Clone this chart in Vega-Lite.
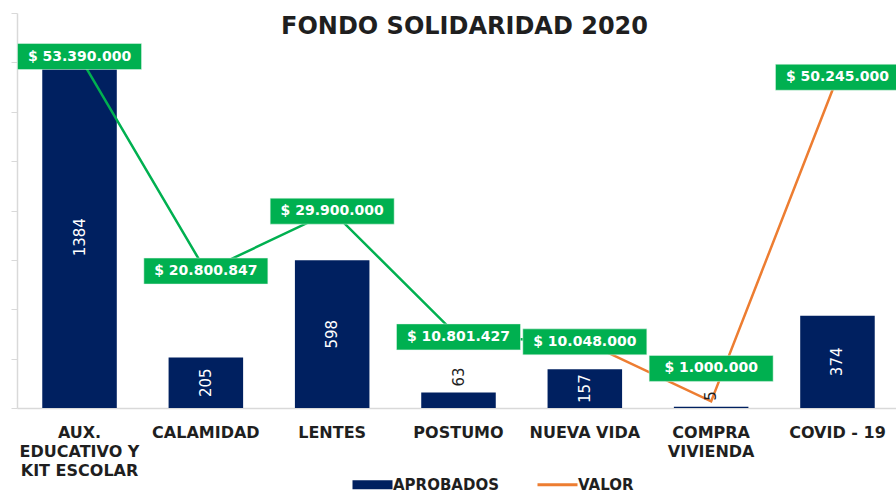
{
  "$schema": "https://vega.github.io/schema/vega-lite/v6.json",
  "width": 883,
  "height": 395,
  "autosize": {"type": "none"},
  "padding": {"left": 17, "top": 13, "right": 0, "bottom": 86},
  "background": "white",
  "title": {
    "text": "FONDO SOLIDARIDAD 2020",
    "font": "DejaVu Sans",
    "fontSize": 24,
    "fontWeight": "bold",
    "color": "#1f1f1f",
    "anchor": "middle",
    "baseline": "alphabetic",
    "offset": -45,
    "dx": 6
  },
  "config": {
    "view": {"stroke": null},
    "locale": {"number": {"decimal": ",", "thousands": ".", "grouping": [3], "currency": ["$ ", ""]}}
  },
  "data": {
    "values": [
      {"categoria": "AUX. EDUCATIVO Y KIT ESCOLAR", "aprobados": 1384, "valor": 53390000},
      {"categoria": "CALAMIDAD", "aprobados": 205, "valor": 20800847},
      {"categoria": "LENTES", "aprobados": 598, "valor": 29900000},
      {"categoria": "POSTUMO", "aprobados": 63, "valor": 10801427},
      {"categoria": "NUEVA VIDA", "aprobados": 157, "valor": 10048000},
      {"categoria": "COMPRA VIVIENDA", "aprobados": 5, "valor": 1000000},
      {"categoria": "COVID - 19", "aprobados": 374, "valor": 50245000}
    ]
  },
  "encoding": {
    "x": {
      "field": "categoria",
      "type": "nominal",
      "sort": null,
      "scale": {"paddingInner": 0.41, "paddingOuter": 0.2},
      "axis": {
        "title": null,
        "labelAngle": 0,
        "labelFont": "DejaVu Sans",
        "labelFontSize": 16,
        "labelFontWeight": "bold",
        "labelColor": "#1f1f1f",
        "labelPadding": 16,
        "labelLineHeight": 19,
        "labelLimit": 300,
        "labelOverlap": false,
        "labelExpr": "datum.value === 'AUX. EDUCATIVO Y KIT ESCOLAR' ? ['AUX.', 'EDUCATIVO Y', 'KIT ESCOLAR'] : datum.value === 'COMPRA VIVIENDA' ? ['COMPRA', 'VIVIENDA'] : datum.value",
        "ticks": false,
        "domainColor": "#d9d9d9",
        "domainWidth": 1.5,
        "grid": false
      }
    }
  },
  "layer": [
    {
      "mark": {"type": "bar"},
      "encoding": {
        "y": {
          "field": "aprobados",
          "type": "quantitative",
          "scale": {"domain": [0, 1600], "nice": false},
          "axis": {
            "title": null,
            "labels": false,
            "grid": false,
            "values": [0, 200, 400, 600, 800, 1000, 1200, 1400, 1600],
            "tickSize": 6,
            "tickColor": "#d9d9d9",
            "domainColor": "#d9d9d9",
            "domainWidth": 1.5
          }
        },
        "color": {
          "datum": "APROBADOS",
          "type": "nominal",
          "scale": {"domain": ["APROBADOS", "VALOR"], "range": ["#002060", "#ed7d31"]},
          "legend": {
            "orient": "none",
            "legendX": 348,
            "legendY": 464,
            "padding": 0,
            "direction": "horizontal",
            "title": null,
            "labelFont": "DejaVu Sans",
            "labelFontSize": 15,
            "labelFontWeight": "bold",
            "labelColor": "#1f1f1f",
            "symbolSize": 400,
            "labelOffset": 13,
            "columnPadding": 32,
            "encode": {
              "symbols": {
                "update": {
                  "shape": {"signal": "datum.value === 'VALOR' ? 'M-2,0H2' : 'M-2,-0.45H2V0.45H-2Z'"},
                  "fill": {"signal": "datum.value === 'VALOR' ? 'transparent' : '#002060'"},
                  "stroke": {"signal": "datum.value === 'VALOR' ? '#ed7d31' : '#002060'"},
                  "strokeWidth": {"signal": "datum.value === 'VALOR' ? 3 : 0"},
                  "opacity": {"value": 1},
                  "fillOpacity": {"value": 1},
                  "strokeOpacity": {"value": 1}
                }
              }
            }
          }
        }
      }
    },
    {
      "transform": [{"filter": "indexof(['COMPRA VIVIENDA', 'COVID - 19'], datum.categoria) < 0"}],
      "mark": {"type": "line", "color": "#00b050", "strokeWidth": 2.5},
      "encoding": {
        "y": {"field": "valor", "type": "quantitative", "scale": {"domain": [0, 60000000], "nice": false}, "axis": null}
      }
    },
    {
      "transform": [{"filter": "indexof(['NUEVA VIDA', 'COMPRA VIVIENDA', 'COVID - 19'], datum.categoria) >= 0"}],
      "mark": {"type": "line", "strokeWidth": 2.5},
      "encoding": {
        "y": {"field": "valor", "type": "quantitative", "scale": {"domain": [0, 60000000], "nice": false}, "axis": null},
        "color": {"datum": "VALOR", "type": "nominal"}
      }
    },
    {
      "transform": [{"filter": "datum.valor >= 5000000"}],
      "mark": {"type": "point", "shape": "M-1.24,-0.26H1.24V0.26H-1.24Z", "filled": true, "color": "#00b050", "opacity": 1, "size": 10000, "stroke": "#e8f7ee", "strokeWidth": 0.5},
      "encoding": {
        "y": {"field": "valor", "type": "quantitative", "scale": {"domain": [0, 60000000], "nice": false}, "axis": null}
      }
    },
    {
      "transform": [{"filter": "datum.valor < 5000000"}],
      "mark": {"type": "point", "shape": "M-1.24,-0.26H1.24V0.26H-1.24Z", "filled": true, "color": "#00b050", "opacity": 1, "size": 10000, "yOffset": -33, "stroke": "#e8f7ee", "strokeWidth": 0.5},
      "encoding": {
        "y": {"field": "valor", "type": "quantitative", "scale": {"domain": [0, 60000000], "nice": false}, "axis": null}
      }
    },
    {
      "transform": [{"filter": "datum.valor >= 5000000"}],
      "mark": {"type": "text", "font": "DejaVu Sans", "fontSize": 14, "fontWeight": "bold", "color": "white", "align": "center", "baseline": "middle"},
      "encoding": {
        "y": {"field": "valor", "type": "quantitative", "scale": {"domain": [0, 60000000], "nice": false}, "axis": null},
        "text": {"field": "valor", "type": "quantitative", "format": "$,.0f"}
      }
    },
    {
      "transform": [{"filter": "datum.valor < 5000000"}],
      "mark": {"type": "text", "font": "DejaVu Sans", "fontSize": 14, "fontWeight": "bold", "color": "white", "align": "center", "baseline": "middle", "yOffset": -33},
      "encoding": {
        "y": {"field": "valor", "type": "quantitative", "scale": {"domain": [0, 60000000], "nice": false}, "axis": null},
        "text": {"field": "valor", "type": "quantitative", "format": "$,.0f"}
      }
    },
    {
      "transform": [{"filter": "datum.aprobados >= 100"}],
      "mark": {"type": "text", "font": "DejaVu Sans", "fontSize": 15, "color": "white", "angle": 270, "align": "center", "baseline": "middle"},
      "encoding": {
        "y": {"field": "aprobados", "type": "quantitative", "scale": {"domain": [0, 3200], "nice": false}, "axis": null},
        "text": {"field": "aprobados", "type": "quantitative"}
      }
    },
    {
      "transform": [{"filter": "datum.aprobados < 100"}],
      "mark": {"type": "text", "font": "DejaVu Sans", "fontSize": 15, "color": "#1f1f1f", "angle": 270, "align": "left", "baseline": "middle", "dx": 6},
      "encoding": {
        "y": {"field": "aprobados", "type": "quantitative", "scale": {"domain": [0, 1600], "nice": false}, "axis": null},
        "text": {"field": "aprobados", "type": "quantitative"}
      }
    }
  ],
  "resolve": {"scale": {"y": "independent"}}
}
